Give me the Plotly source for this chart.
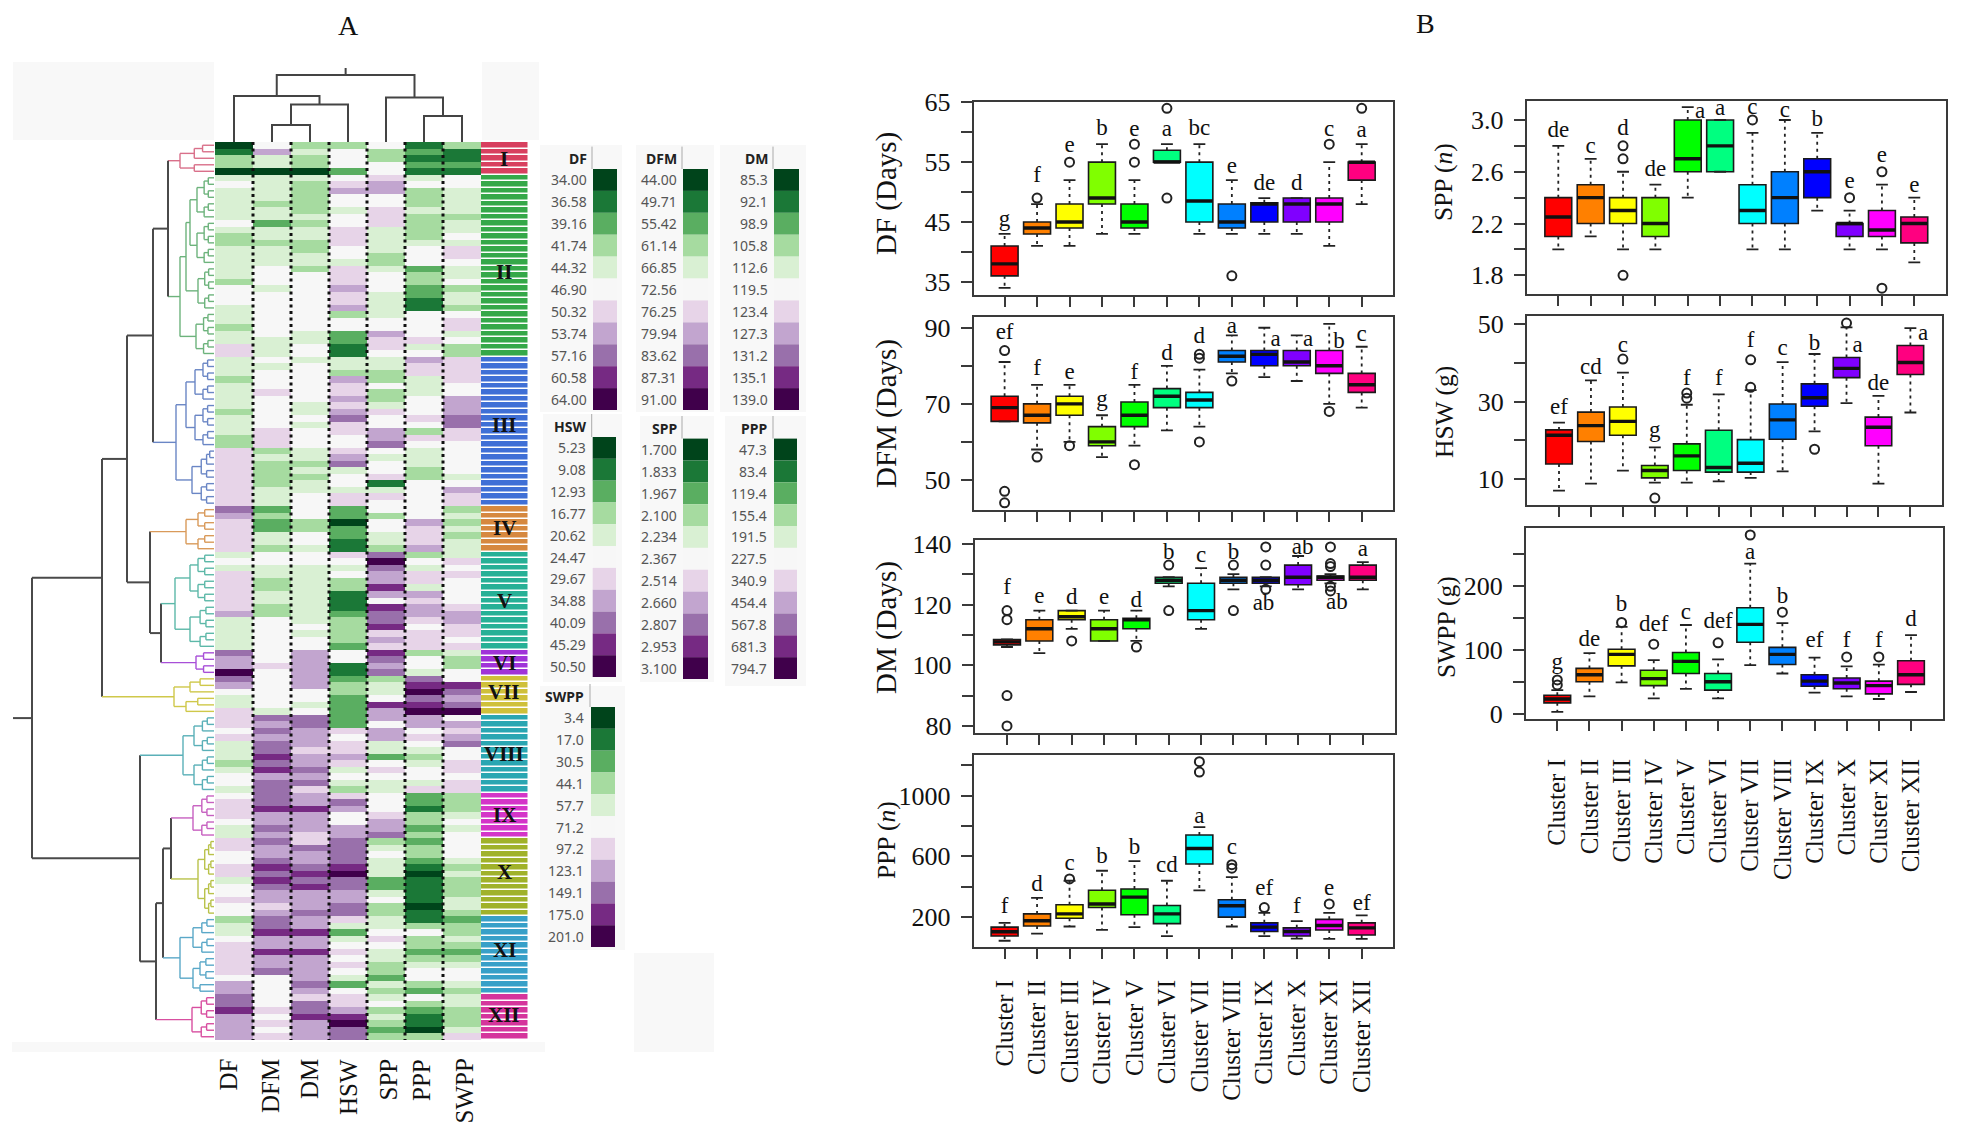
import plotly.graph_objects as go

W, H = 1965, 1144
CLUSTERS = ["I","II","III","IV","V","VI","VII","VIII","IX","X","XI","XII"]
CLUSTER_LABELS = ["Cluster " + c for c in CLUSTERS]
BOX_COLORS = ["#ff0000","#ff8000","#ffff00","#80ff00","#00ff00","#00ff80","#00ffff","#0080ff","#0000ff","#8000ff","#ff00ff","#ff0080"]
PRGN = ["#00441b","#1b7837","#5aae61","#a6dba0","#d9f0d3","#f7f7f7","#e7d4e8","#c2a5cf","#9970ab","#762a83","#40004b"]
BAND_COLORS = ["#d8405f","#35a849","#3f6fd6","#d6883f","#27b096","#a033d8","#cfc03a","#2aa6b2","#d435c8","#a0b22a","#37a0c8","#d5359c"]
TREE_COLORS = ["#d9708a","#6db37c","#6a86c5","#d99a5a","#5cb8a8","#a84fd8","#cfc84a","#5ab0b8","#c760c0","#b9c24a","#5aa8c8","#d84fa0"]
ROWS_PER_CLUSTER = [5,28,23,7,15,4,6,12,7,12,12,7]

# Heat map levels per cluster (0 dark green ... 5 neutral ... x dark purple)
HEAT_DF = ["01330","4544444"+"5433444"+"4435554"+"4434466","444344443"+"44433"+"666666666","8766666","454666666744444","877x","875446","665644434554","5666544","665566455655","344566666577","8897777"]
HEAT_DFM = ["57440","4444344"+"2443444"+"5554555"+"5555444","54555"+"65555"+"5666"+"343333444","2322443","554433443355555","5565","555554","878788989788","8897787","877898987767","889779778555","5565656"]
HEAT_DM = ["34330","4333334"+"3443344"+"3555555"+"5554455","45555"+"55445"+"4555"+"443434455","5533554","554444444445455","7777","775545","887776778786","7797776","687789897778","779779777787","6889777"]
HEAT_HSW = ["35552","5675545"+"5666554"+"6667667"+"3552211","44376676786655678455466","2202211","654533111233332","5511","233222","226566764543","6875577","88889x887788","642456565425","6679x88"]
HEAT_SPP = ["53355","6775566"+"6444433"+"4555444"+"4557665","44335334655778545561465","5355443","8x8779759889676","9878","344597","757744256544","5556778","345444224533","445654433243","4534323"]
HEAT_PPP = ["12121","4533343"+"3334555"+"2332211"+"5555645","76644455565365444335555","5576667","354664767765666","3554","89x89x","775654345546","2213323","233210111101","135332345532","5321103"]
HEAT_SWPP = ["31121","5544443"+"4454665"+"4453443"+"5664533","66665577788665555545766","3434344","465655556776656","4335","59878x","576785566566","3334545","555434333443","233432345543","4433346"]
HEAT_COLUMNS = ["DF","DFM","DM","HSW","SPP","PPP","SWPP"]
ROMAN_Y = [159,272,425,528,601,663,692,754,815,872,950,1015]

# Colour keys
KEY_DF = ["34.00","36.58","39.16","41.74","44.32","46.90","50.32","53.74","57.16","60.58","64.00"]
KEY_DFM = ["44.00","49.71","55.42","61.14","66.85","72.56","76.25","79.94","83.62","87.31","91.00"]
KEY_DM = ["85.3","92.1","98.9","105.8","112.6","119.5","123.4","127.3","131.2","135.1","139.0"]
KEY_HSW = ["5.23","9.08","12.93","16.77","20.62","24.47","29.67","34.88","40.09","45.29","50.50"]
KEY_SPP = ["1.700","1.833","1.967","2.100","2.234","2.367","2.514","2.660","2.807","2.953","3.100"]
KEY_PPP = ["47.3","83.4","119.4","155.4","191.5","227.5","340.9","454.4","567.8","681.3","794.7"]
KEY_SWPP = ["3.4","17.0","30.5","44.1","57.7","71.2","97.2","123.1","149.1","175.0","201.0"]

# Box plot statistics
DF_q1 = [36,43,44,48,44,55,45,44,45,45,45,52]
DF_med = [38,44,45,49,45,55,48.5,45,48,48,48,55]
DF_q3 = [41,45,48,55,48,57,55,48,48.2,49,49,55]
DF_lo = [34,41,41,43,43,55,43,43,43,43,41,48]
DF_hi = [43,48,52,58,52,58,58,52,49,49,55,58]
DF_out = [[],[49],[55],[],[55,58],[64,49],[],[36],[],[],[58],[64]]
DF_let = ["g","f","e","b","e","a","bc","e","de","d","c","a"]
DF_let_y = [45.3,52.6,57.6,60.5,60.4,60.4,60.5,54.2,51.3,51.3,60.4,60.1]
DF_let_dx = [0]*12

DFM_q1 = [65.4,65,67,59,64,69,69,81,80,80,78,73]
DFM_med = [69,67,70,60,67,72,71,82.5,83,81,80,75]
DFM_q3 = [72,70,72,64,70.5,74,73,84,84,84,84,78]
DFM_lo = [65.4,58,60,56,59,63,64,78,77,76,70,69]
DFM_hi = [81,75,75,67,75,80,79,88,90,88,91,85]
DFM_out = [[84,47,44],[56],[59],[],[54],[],[60,83,82],[76],[],[],[68],[]]
DFM_let = ["ef","f","e","g","f","d","d","a","a","a","b","c"]
DFM_let_y = [88.5,79,78,71,78,83,87.5,90,86.6,86.6,86.3,88]
DFM_let_dx = [0,0,0,0,0,0,0,0,.35,.35,.3,0]

DM_q1 = [106.7,108,115,108,112,127,115,127,127,126.5,128,128]
DM_med = [107.7,112,116,112,115,128,118,128,128,129,129,129]
DM_q3 = [108.5,115,118,115,115.5,129,127,129,129,133,129.4,133]
DM_lo = [106,104,112,108,108,126,112,125,126,125,127,125]
DM_hi = [108.5,118,118,118,118,129,132,130,129,136,130,134]
DM_out = [[118,115,90,80],[],[108],[],[106],[133,118],[],[133,118],[139,133,125],[],[139,133.5,132.5,126,124.5],[]]
DM_let = ["f","e","d","e","d","b","c","b","ab","ab","ab","a"]
DM_let_y = [125.5,122.5,122,122,121,137,136,137,120,138.7,120.5,138]
DM_let_dx = [0,0,0,0,0,0,0,0,-.07,.14,.2,0]

PPP_q1 = [73,139,190,261,214,155,549,198,103,73,113,80]
PPP_med = [101,174,219,285,330,219,651,273,132,103,143,127]
PPP_q3 = [132,219,280,375,384,275,740,313,160,127,183,160]
PPP_lo = [42,89,136,113,132,73,375,136,73,56,54,54]
PPP_hi = [160,325,438,504,568,438,792,462,226,172,226,209]
PPP_out = [[],[],[450],[],[],[],[1224,1156],[544,521],[261],[],[285],[]]
PPP_let = ["f","d","c","b","b","cd","a","c","ef","f","e","ef"]
PPP_let_y = [266,410,544,592,650,533,858,650,384,261,384,285]
PPP_let_dx = [0]*12

SPP_q1 = [2.1,2.2,2.2,2.1,2.6,2.6,2.2,2.2,2.4,2.1,2.1,2.05]
SPP_med = [2.25,2.4,2.3,2.2,2.7,2.8,2.3,2.4,2.6,2.2,2.15,2.2]
SPP_q3 = [2.4,2.5,2.4,2.4,3.0,3.0,2.5,2.6,2.7,2.2,2.3,2.25]
SPP_lo = [2.0,2.1,2.0,2.0,2.4,2.6,2.0,2.0,2.3,2.0,2.0,1.9]
SPP_hi = [2.8,2.7,2.6,2.5,3.1,3.0,2.9,3.0,2.9,2.3,2.5,2.4]
SPP_out = [[],[],[2.8,2.7,1.8],[],[],[],[3.0],[],[],[2.4],[2.6,1.7],[]]
SPP_let = ["de","c","d","de","a","a","c","c","b","e","e","e"]
SPP_let_y = [2.91,2.79,2.93,2.61,3.06,3.08,3.09,3.07,3.0,2.52,2.72,2.49]
SPP_let_dx = [0,0,0,0,.38,0,0,0,0,0,0,0]

HSW_q1 = [13.9,19.7,21.3,10.3,12.2,11.8,11.8,20.3,28.8,36.2,18.6,37]
HSW_med = [21.3,23.8,24.9,12.2,16,13,14.1,25.3,31,38.6,23.4,40.1]
HSW_q3 = [22.7,27.3,28.6,13.5,19.1,22.6,20.2,29.4,34.6,41.4,26,44.5]
HSW_lo = [7,8.8,12.2,9.1,9.1,9.4,10.3,12,22.3,29.6,8.8,27.2]
HSW_hi = [24.6,35.5,37.5,18.2,29.2,31.9,33,40.2,42.3,49.2,31.5,49]
HSW_out = [[],[],[41],[5.1],[32.2,30.9],[],[40.8,33.7],[],[17.7],[50.3],[],[]]
HSW_let = ["ef","cd","c","g","f","f","f","c","b","a","de","a"]
HSW_let_y = [28.3,38.6,44.4,22.3,35.8,35.8,45.5,43.5,44.7,44.2,34.6,47.5]
HSW_let_dx = [0,0,0,0,0,0,0,0,0,.35,0,.4]

SWPP_q1 = [17,50,75,44,63,37,112,77,43,39,31,46]
SWPP_med = [23,61,93,55,82,50,140,93,51,48,44,61]
SWPP_q3 = [29,71,101,68,96,63,166,104,61,56,51,83]
SWPP_lo = [3,27,49,24,39,24,76,63,33,27,23,34]
SWPP_hi = [37,95,136,84,139,85,235,142,88,74,77,123]
SWPP_out = [[53,45],[],[143],[109],[],[111],[280],[159],[],[89],[89],[]]
SWPP_let = ["g","de","b","def","c","def","a","b","ef","f","f","d"]
SWPP_let_y = [79,115,170,139,157,143,252,183,113,114,114,147]
SWPP_let_dx = [0]*12


def xd(a, b):
    return [a / W, b / W]


def yd(t, b):
    return [1 - b / H, 1 - t / H]


def px(x):
    return x / W


def py(y):
    return 1 - y / H


fig = go.Figure()
annotations = []
shapes = []
layout = {}


def note(text, x, y, size, family="Liberation Serif", color="#111", angle=0, xanchor="center", yanchor="middle"):
    annotations.append(dict(text=text, x=px(x), y=py(y), xref="paper", yref="paper", showarrow=False,
                            font=dict(family=family, size=size, color=color), textangle=angle,
                            xanchor=xanchor, yanchor=yanchor, borderpad=0, borderwidth=0))


def rect(x0, y0, x1, y1, color):
    shapes.append(dict(type="rect", xref="paper", yref="paper", x0=px(x0), x1=px(x1), y0=py(y0), y1=py(y1),
                       fillcolor=color, line=dict(width=0), layer="below"))


# ---------- faint panel backgrounds ----------
BG = "#f8f8f8"
rect(13, 62, 214, 140, BG)
rect(482, 62, 539, 140, BG)
rect(12, 1042, 545, 1052, BG)
rect(634, 953, 714, 1052, BG)
rect(540, 145, 622, 412, BG)
rect(636, 145, 714, 412, BG)
rect(720, 145, 806, 412, BG)
rect(543, 414, 622, 682, BG)
rect(640, 416, 714, 682, BG)
rect(725, 416, 806, 686, BG)
rect(540, 686, 625, 950, BG)

# ---------- heat map ----------
GRID_L, GRID_R, GRID_T, GRID_B = 215, 481, 142, 1040
N_ROWS = sum(ROWS_PER_CLUSTER)
LEVELS = "0123456789x"


def column(parts):
    for part, n in zip(parts, ROWS_PER_CLUSTER):
        assert len(part) == n, (part, n)
    return [LEVELS.index(c) for c in "".join(parts)]


cols = [column(p) for p in [HEAT_DF, HEAT_DFM, HEAT_DM, HEAT_HSW, HEAT_SPP, HEAT_PPP, HEAT_SWPP]]
z = [[cols[c][r] for c in range(7)] for r in range(N_ROWS)]


def stepped(colors):
    n = len(colors)
    out = []
    for i, c in enumerate(colors):
        out += [[i / n, c], [(i + 1) / n, c]]
    return out


fig.add_trace(go.Heatmap(z=z, x=list(range(7)), y=list(range(N_ROWS)), colorscale=stepped(PRGN), zmin=-.5, zmax=10.5,
                         showscale=False, hoverinfo="skip", xaxis="x", yaxis="y"))
band_z = []
for i, n in enumerate(ROWS_PER_CLUSTER):
    band_z += [[i]] * n
fig.add_trace(go.Heatmap(z=band_z, x=[0], y=list(range(N_ROWS)), colorscale=stepped(BAND_COLORS), zmin=-.5, zmax=11.5,
                         ygap=1.5, showscale=False, hoverinfo="skip", xaxis="x10", yaxis="y"))
dx, dy = [], []
for i in range(1, 7):
    dx += [i - .5, i - .5, None]
    dy += [-.5, N_ROWS - .5, None]
fig.add_trace(go.Scatter(x=dx, y=dy, mode="lines", line=dict(color="#111", width=3, dash="3px,3.5px"),
                         hoverinfo="skip", xaxis="x", yaxis="y"))
layout["xaxis"] = dict(domain=xd(GRID_L, GRID_R), range=[-.5, 6.5], visible=False, anchor="y")
layout["yaxis"] = dict(domain=yd(GRID_T, GRID_B), range=[N_ROWS - .5, -.5], visible=False, anchor="x")
layout["xaxis10"] = dict(domain=xd(481, 527.5), range=[-.5, .5], visible=False, anchor="y")
for c, y in zip(CLUSTERS, ROMAN_Y):
    note("<b>%s</b>" % c, 504, y, 21, color="#111")

# ---------- dendrograms ----------
LEAF = 214.0


def span(a, b, x):
    if a == b:
        return a
    m = (a + b) // 2
    nx = x + (LEAF - x) * .42
    return (x, span(a, m, nx), span(m + 1, b, nx))


def group(i, node):
    return ("C", i, node)


C1 = group(0, span(0, 4, 180))
C2 = group(1, (180, (186, (190, span(5, 11, 197), span(12, 18, 197)), span(19, 25, 198)), span(26, 32, 196)))
C3 = group(2, (176, (186, span(33, 39, 195), span(40, 46, 195)), span(47, 55, 192)))
C4 = group(3, (186, span(56, 59, 198), span(60, 62, 198)))
C5 = group(4, (175, (190, span(63, 66, 198), span(67, 70, 198)), span(71, 77, 190)))
C6 = group(5, span(78, 81, 196))
C7 = group(6, (174, span(82, 84, 190), span(85, 87, 186)))
C8 = group(7, (183, span(88, 93, 194), span(94, 99, 194)))
C9 = group(8, span(100, 106, 193))
C10 = group(9, span(107, 118, 198))
C11 = group(10, (180, span(119, 124, 193), (193, span(125, 128, 200), span(129, 130, 200))))
C12 = group(11, span(131, 137, 192))
ROW_TREE = (32,
            (102, (127, (153, (168, C1, C2), C3), (150, C4, (161, C5, C6))), C7),
            (140, C8, (156, (163, (171, C9, C10), C11), C12)))
COLUMN_TREE = (75, (96, 0, (104.6, (125, 1, 2), 3)), (97.5, 4, (116, 5, 6)))

row_segs = {}


def walk_rows(node, color):
    if isinstance(node, int):
        return node, LEAF, color
    if node[0] == "C":
        pos, h, _ = walk_rows(node[2], TREE_COLORS[node[1]])
        return pos, h, TREE_COLORS[node[1]]
    x, a, b = node
    pa, ha, ca = walk_rows(a, color)
    pb, hb, cb = walk_rows(b, color)
    s = row_segs.setdefault(ca, ([], []))
    s[0].extend([ha, x, None]); s[1].extend([pa, pa, None])
    s = row_segs.setdefault(cb, ([], []))
    s[0].extend([hb, x, None]); s[1].extend([pb, pb, None])
    s = row_segs.setdefault(color, ([], []))
    s[0].extend([x, x, None]); s[1].extend([pa, pb, None])
    return (pa + pb) / 2, x, color


MAIN = "#4a4a4a"
root_pos, root_h, _ = walk_rows(ROW_TREE, MAIN)
s = row_segs.setdefault(MAIN, ([], []))
s[0].extend([13, root_h, None]); s[1].extend([root_pos, root_pos, None])
for color, (sx, sy) in row_segs.items():
    fig.add_trace(go.Scatter(x=sx, y=sy, mode="lines", line=dict(color=color, width=2 if color == MAIN else 1.4),
                             hoverinfo="skip", xaxis="x2", yaxis="y"))
layout["xaxis2"] = dict(domain=xd(0, 215), range=[0, 215], visible=False, anchor="y")

col_x, col_y = [], []


def walk_cols(node):
    if isinstance(node, int):
        return node, float(GRID_T)
    h, a, b = node
    pa, ha = walk_cols(a)
    pb, hb = walk_cols(b)
    col_x.extend([pa, pa, pb, pb, None])
    col_y.extend([ha, h, h, hb, None])
    return (pa + pb) / 2, h


p, h0 = walk_cols(COLUMN_TREE)
col_x.extend([p, p, None]); col_y.extend([h0, 68, None])
fig.add_trace(go.Scatter(x=col_x, y=col_y, mode="lines", line=dict(color="#444", width=2), hoverinfo="skip",
                         xaxis="x", yaxis="y2"))
layout["yaxis2"] = dict(domain=yd(62, GRID_T), range=[GRID_T, 62], visible=False, anchor="x")

COL_LABEL_X = [227.5, 270, 309, 348, 387.5, 421, 464]
for t, x in zip(HEAT_COLUMNS, COL_LABEL_X):
    note(t, x, 1059, 25, angle=-90, yanchor="top")
note("A", 348, 25, 28)
note("B", 1425, 23, 28)

# ---------- colour keys ----------
KEYS = [("DF", KEY_DF, 593, 617, 169, 410, 587, 158.6), ("DFM", KEY_DFM, 683, 708, 169, 410, 677, 158.6),
        ("DM", KEY_DM, 774, 799, 169, 410, 768, 158.6), ("HSW", KEY_HSW, 592.7, 616, 437, 677, 586, 426),
        ("SPP", KEY_SPP, 683, 708, 438.6, 679, 677, 428), ("PPP", KEY_PPP, 774, 797, 438.6, 679, 767, 428),
        ("SWPP", KEY_SWPP, 591, 615, 707, 947, 584, 696)]
for name, labels, l, r, t, b, tx, hy in KEYS:
    step = (b - t) / 11
    note("<b>%s</b>" % name, tx, hy, 14, family="Noto Sans", color="#222", xanchor="right")
    shapes.append(dict(type="line", xref="paper", yref="paper", x0=px(l - 1), x1=px(l - 1), y0=py(hy - 12), y1=py(t),
                       line=dict(color="#aaa", width=1)))
    for i, lab in enumerate(labels):
        rect(l, t + i * step, r, t + (i + 1) * step, PRGN[i])
        note(lab, tx, t + (i + .5) * step, 14, family="Noto Sans", color="#555", xanchor="right")

# ---------- box panels ----------
PANELS = [
    ("DF (Days)", 29, 886, 194, 973.6, 1393, 102, 295, [32.8, 65.05], [1004.6, 1361.7], [35,45,55,65], [40,50,60],
     DF_q1, DF_med, DF_q3, DF_lo, DF_hi, DF_out, DF_let, DF_let_y, DF_let_dx, None),
    ("DFM (Days)", 29, 886, 414, 973.6, 1393, 316.7, 510, [42.1, 92.9], [1004.6, 1361.7], [50,70,90], [60,80],
     DFM_q1, DFM_med, DFM_q3, DFM_lo, DFM_hi, DFM_out, DFM_let, DFM_let_y, DFM_let_dx, None),
    ("DM (Days)", 29, 886, 628, 974.7, 1394.8, 539.6, 733.2, [77.6, 141.4], [1007, 1362.8], [80,100,120,140], [90,110,130],
     DM_q1, DM_med, DM_q3, DM_lo, DM_hi, DM_out, DM_let, DM_let_y, DM_let_dx, None),
    ("PPP (<i>n</i>)", 25.5, 886, 840, 973.6, 1393, 754.6, 946.8, [1.9, 1271], [1004.6, 1361.7], [200,600,1000], [400,800,1200],
     PPP_q1, PPP_med, PPP_q3, PPP_lo, PPP_hi, PPP_out, PPP_let, PPP_let_y, PPP_let_dx, 11),
    ("SPP (<i>n</i>)", 25.5, 1444, 182, 1526.7, 1945.5, 100.7, 294.3, [1.653, 3.149], [1558.3, 1914.3], [1.8,2.2,2.6,3.0], [2.0,2.4,2.8],
     SPP_q1, SPP_med, SPP_q3, SPP_lo, SPP_hi, SPP_out, SPP_let, SPP_let_y, SPP_let_dx, None),
    ("HSW (g)", 25.5, 1444, 412, 1527, 1942, 315.7, 505, [3.3, 52.2], [1559, 1910.4], [10,30,50], [20,40],
     HSW_q1, HSW_med, HSW_q3, HSW_lo, HSW_hi, HSW_out, HSW_let, HSW_let_y, HSW_let_dx, None),
    ("SWPP (g)", 25.5, 1446, 627, 1526, 1943, 528.3, 719, [-8.3, 290.5], [1557.3, 1911], [0,100,200], [50,150,250],
     SWPP_q1, SWPP_med, SWPP_q3, SWPP_lo, SWPP_hi, SWPP_out, SWPP_let, SWPP_let_y, SWPP_let_dx, 18),
]
FRAME = "#3a3a3a"
X = list(range(1, 13))
for k, pn in enumerate(PANELS):
    (title, tsize, tx, ty, L, R, T, B, yr, xpos, major, minor, q1, med, q3, lo, hi, out, let, let_y, let_dx, standoff) = pn
    n = k + 3
    xa, ya = "x%d" % n, "y%d" % n
    pitch = (xpos[1] - xpos[0]) / 11
    xr = [1 - (xpos[0] - L) / pitch, 12 + (R - xpos[1]) / pitch]
    for i in range(12):
        fig.add_trace(go.Box(x=[X[i]], q1=[q1[i]], median=[med[i]], q3=[q3[i]], lowerfence=[q1[i]], upperfence=[q3[i]],
                             width=.83, fillcolor=BOX_COLORS[i], line=dict(color="#1a1a1a", width=1.6), whiskerwidth=0,
                             boxpoints=False, hoverinfo="skip", xaxis=xa, yaxis=ya))
    wx, wy = [], []
    for i in range(12):
        wx += [X[i], X[i], None, X[i], X[i], None]
        wy += [q3[i], hi[i], None, q1[i], lo[i], None]
    fig.add_trace(go.Scatter(x=wx, y=wy, mode="lines", line=dict(color="#222", width=1.8, dash="3px,4px"),
                             hoverinfo="skip", xaxis=xa, yaxis=ya))
    fig.add_trace(go.Scatter(x=X + X, y=lo + hi, mode="markers",
                             marker=dict(symbol="line-ew", size=8.5, color="#222", line=dict(color="#222", width=1.8)),
                             hoverinfo="skip", xaxis=xa, yaxis=ya))
    fig.add_trace(go.Scatter(x=X, y=med, mode="markers",
                             marker=dict(symbol="line-ew", size=19, color="#111", line=dict(color="#111", width=3.4)),
                             hoverinfo="skip", xaxis=xa, yaxis=ya))
    ox, oy = [], []
    for i in range(12):
        for v in out[i]:
            ox.append(X[i]); oy.append(v)
    fig.add_trace(go.Scatter(x=ox, y=oy, mode="markers",
                             marker=dict(symbol="circle-open", size=9, color="#222", line=dict(color="#222", width=2)),
                             hoverinfo="skip", xaxis=xa, yaxis=ya))
    fig.add_trace(go.Scatter(x=[X[i] + let_dx[i] for i in range(12)], y=let_y, mode="text", text=let,
                             textposition="middle center", textfont=dict(family="Liberation Serif", size=23, color="#111"),
                             hoverinfo="skip", xaxis=xa, yaxis=ya))
    xax = dict(domain=xd(L, R), range=xr, anchor=ya, showgrid=False, zeroline=False, showline=True, mirror=True,
               linecolor=FRAME, linewidth=2, ticks="outside", ticklen=10, tickwidth=2, tickcolor=FRAME,
               tickvals=X, showticklabels=False, fixedrange=True)
    if standoff is not None:
        xax.update(showticklabels=True, ticktext=CLUSTER_LABELS, tickangle=-90, ticklabelstandoff=standoff,
                   tickfont=dict(family="Liberation Serif", size=25, color="#111"))
    vals = sorted(major + minor)
    yax = dict(domain=yd(T, B), range=yr, anchor=xa, showgrid=False, zeroline=False, showline=True, mirror=True,
               linecolor=FRAME, linewidth=2, ticks="outside", ticklen=11, tickwidth=2, tickcolor=FRAME,
               tickvals=vals, ticktext=[(("%.1f" % v) if isinstance(v, float) else str(v)) if v in major else "" for v in vals],
               ticklabelstandoff=5, tickfont=dict(family="Liberation Serif", size=26, color="#111"), fixedrange=True)
    layout["xaxis%d" % n] = xax
    layout["yaxis%d" % n] = yax
    note(title, tx, ty, tsize, angle=-90)

fig.update_layout(template="none", width=W, height=H, margin=dict(l=0, r=0, t=0, b=0, pad=0, autoexpand=False),
                  paper_bgcolor="white", plot_bgcolor="rgba(0,0,0,0)", showlegend=False, hovermode=False,
                  annotations=annotations, shapes=shapes, **layout)
fig.write_html("out.html", config=dict(displayModeBar=False),
               post_script="document.body.style.margin='0';document.body.style.overflow='hidden';")
